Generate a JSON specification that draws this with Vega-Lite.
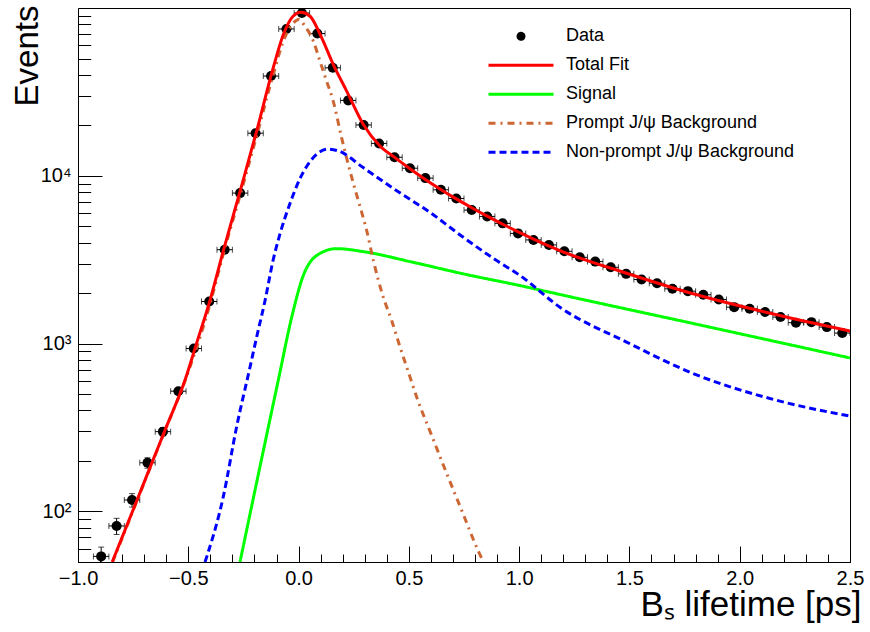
{
  "$schema": "https://vega.github.io/schema/vega-lite/v6.json",
  "width": 772,
  "height": 554,
  "autosize": {"type": "none"},
  "padding": {"left": 78, "top": 8, "right": 20, "bottom": 70},
  "background": "white",
  "config": {
    "view": {"stroke": "black", "strokeWidth": 1},
    "font": "Liberation Sans",
    "axis": {
      "grid": false,
      "domainColor": "black",
      "domainWidth": 1,
      "tickColor": "black",
      "tickWidth": 1,
      "labelColor": "black",
      "titleColor": "black",
      "labelFont": "Liberation Sans",
      "titleFont": "Liberation Sans",
      "titleFontWeight": "normal",
      "labelFontSize": 20,
      "labelOverlap": false,
      "labelFlush": false,
      "labelBound": false
    }
  },
  "datasets": {
    "points": [
      {"t": -0.895, "tlo": -0.93, "thi": -0.86, "v": 54, "vlo": 46.65, "vhi": 61.35},
      {"t": -0.825, "tlo": -0.86, "thi": -0.79, "v": 82, "vlo": 72.94, "vhi": 91.06},
      {"t": -0.755, "tlo": -0.79, "thi": -0.72, "v": 117, "vlo": 106.18, "vhi": 127.82},
      {"t": -0.685, "tlo": -0.72, "thi": -0.65, "v": 195, "vlo": 181.04, "vhi": 208.96},
      {"t": -0.615, "tlo": -0.65, "thi": -0.58, "v": 299, "vlo": 281.71, "vhi": 316.29},
      {"t": -0.545, "tlo": -0.58, "thi": -0.51, "v": 521, "vlo": 498.17, "vhi": 543.83},
      {"t": -0.475, "tlo": -0.51, "thi": -0.44, "v": 935, "vlo": 904.4, "vhi": 965.6},
      {"t": -0.405, "tlo": -0.44, "thi": -0.37, "v": 1783, "vlo": 1740.8, "vhi": 1825.2},
      {"t": -0.335, "tlo": -0.37, "thi": -0.3, "v": 3630, "vlo": 3569.8, "vhi": 3690.2},
      {"t": -0.265, "tlo": -0.3, "thi": -0.23, "v": 7890, "vlo": 7801.2, "vhi": 7978.8},
      {"t": -0.195, "tlo": -0.23, "thi": -0.16, "v": 17950, "vlo": 17816, "vhi": 18084},
      {"t": -0.125, "tlo": -0.16, "thi": -0.09, "v": 39300, "vlo": 39102, "vhi": 39498},
      {"t": -0.055, "tlo": -0.09, "thi": -0.02, "v": 75000, "vlo": 74726, "vhi": 75274},
      {"t": 0.015, "tlo": -0.02, "thi": 0.05, "v": 93400, "vlo": 93094, "vhi": 93706},
      {"t": 0.085, "tlo": 0.05, "thi": 0.12, "v": 70400, "vlo": 70135, "vhi": 70665},
      {"t": 0.155, "tlo": 0.12, "thi": 0.19, "v": 44000, "vlo": 43790, "vhi": 44210},
      {"t": 0.225, "tlo": 0.19, "thi": 0.26, "v": 28150, "vlo": 27982, "vhi": 28318},
      {"t": 0.295, "tlo": 0.26, "thi": 0.33, "v": 20100, "vlo": 19958, "vhi": 20242},
      {"t": 0.365, "tlo": 0.33, "thi": 0.4, "v": 15600, "vlo": 15475, "vhi": 15725},
      {"t": 0.435, "tlo": 0.4, "thi": 0.47, "v": 12900, "vlo": 12786, "vhi": 13014},
      {"t": 0.505, "tlo": 0.47, "thi": 0.54, "v": 11100, "vlo": 10995, "vhi": 11205},
      {"t": 0.575, "tlo": 0.54, "thi": 0.61, "v": 9690, "vlo": 9592, "vhi": 9788},
      {"t": 0.645, "tlo": 0.61, "thi": 0.68, "v": 8255, "vlo": 8164, "vhi": 8346},
      {"t": 0.715, "tlo": 0.68, "thi": 0.75, "v": 7330, "vlo": 7244, "vhi": 7416},
      {"t": 0.785, "tlo": 0.75, "thi": 0.82, "v": 6250, "vlo": 6171, "vhi": 6329},
      {"t": 0.855, "tlo": 0.82, "thi": 0.89, "v": 5730, "vlo": 5654, "vhi": 5806},
      {"t": 0.925, "tlo": 0.89, "thi": 0.96, "v": 5210, "vlo": 5138, "vhi": 5282},
      {"t": 0.995, "tlo": 0.96, "thi": 1.03, "v": 4540, "vlo": 4473, "vhi": 4607},
      {"t": 1.065, "tlo": 1.03, "thi": 1.1, "v": 4150, "vlo": 4086, "vhi": 4214},
      {"t": 1.135, "tlo": 1.1, "thi": 1.17, "v": 3875, "vlo": 3813, "vhi": 3937},
      {"t": 1.205, "tlo": 1.17, "thi": 1.24, "v": 3550, "vlo": 3490, "vhi": 3610},
      {"t": 1.275, "tlo": 1.24, "thi": 1.31, "v": 3270, "vlo": 3213, "vhi": 3327},
      {"t": 1.345, "tlo": 1.31, "thi": 1.38, "v": 3083, "vlo": 3027, "vhi": 3139},
      {"t": 1.415, "tlo": 1.38, "thi": 1.45, "v": 2851, "vlo": 2798, "vhi": 2904},
      {"t": 1.485, "tlo": 1.45, "thi": 1.52, "v": 2605, "vlo": 2554, "vhi": 2656},
      {"t": 1.555, "tlo": 1.52, "thi": 1.59, "v": 2410, "vlo": 2361, "vhi": 2459},
      {"t": 1.625, "tlo": 1.59, "thi": 1.66, "v": 2291, "vlo": 2243, "vhi": 2339},
      {"t": 1.695, "tlo": 1.66, "thi": 1.73, "v": 2122, "vlo": 2076, "vhi": 2168},
      {"t": 1.765, "tlo": 1.73, "thi": 1.8, "v": 2055, "vlo": 2010, "vhi": 2100},
      {"t": 1.835, "tlo": 1.8, "thi": 1.87, "v": 1955, "vlo": 1911, "vhi": 1999},
      {"t": 1.905, "tlo": 1.87, "thi": 1.94, "v": 1834, "vlo": 1791, "vhi": 1877},
      {"t": 1.975, "tlo": 1.94, "thi": 2.01, "v": 1650, "vlo": 1609, "vhi": 1691},
      {"t": 2.045, "tlo": 2.01, "thi": 2.08, "v": 1615, "vlo": 1575, "vhi": 1655},
      {"t": 2.115, "tlo": 2.08, "thi": 2.15, "v": 1542, "vlo": 1503, "vhi": 1581},
      {"t": 2.185, "tlo": 2.15, "thi": 2.22, "v": 1440, "vlo": 1402, "vhi": 1478},
      {"t": 2.255, "tlo": 2.22, "thi": 2.29, "v": 1333, "vlo": 1296, "vhi": 1370},
      {"t": 2.325, "tlo": 2.29, "thi": 2.36, "v": 1343, "vlo": 1306, "vhi": 1380},
      {"t": 2.395, "tlo": 2.36, "thi": 2.43, "v": 1255, "vlo": 1220, "vhi": 1290},
      {"t": 2.465, "tlo": 2.43, "thi": 2.5, "v": 1156, "vlo": 1122, "vhi": 1190}
    ],
    "curves": [
      {"series": "Signal", "t": -0.2656, "v": 50},
      {"series": "Signal", "t": -0.175, "v": 185},
      {"series": "Signal", "t": -0.092, "v": 605},
      {"series": "Signal", "t": -0.031, "v": 1439},
      {"series": "Signal", "t": 0.0213, "v": 2545},
      {"series": "Signal", "t": 0.082, "v": 3350},
      {"series": "Signal", "t": 0.173, "v": 3683},
      {"series": "Signal", "t": 0.293, "v": 3535},
      {"series": "Signal", "t": 0.52, "v": 3052},
      {"series": "Signal", "t": 0.747, "v": 2605},
      {"series": "Signal", "t": 1.004, "v": 2218},
      {"series": "Signal", "t": 1.185, "v": 1963},
      {"series": "Signal", "t": 1.8, "v": 1309},
      {"series": "Signal", "t": 2.5, "v": 822},
      {"series": "Prompt J/ψ Background", "t": -0.843, "v": 50},
      {"series": "Prompt J/ψ Background", "t": -0.73, "v": 118},
      {"series": "Prompt J/ψ Background", "t": -0.6, "v": 316},
      {"series": "Prompt J/ψ Background", "t": -0.515, "v": 600},
      {"series": "Prompt J/ψ Background", "t": -0.4, "v": 1750},
      {"series": "Prompt J/ψ Background", "t": -0.341, "v": 3430},
      {"series": "Prompt J/ψ Background", "t": -0.252, "v": 8800},
      {"series": "Prompt J/ψ Background", "t": -0.19, "v": 17300},
      {"series": "Prompt J/ψ Background", "t": -0.115, "v": 40000},
      {"series": "Prompt J/ψ Background", "t": -0.069, "v": 63400},
      {"series": "Prompt J/ψ Background", "t": -0.025, "v": 81000},
      {"series": "Prompt J/ψ Background", "t": 0.0, "v": 85500},
      {"series": "Prompt J/ψ Background", "t": 0.029, "v": 77800},
      {"series": "Prompt J/ψ Background", "t": 0.067, "v": 63400},
      {"series": "Prompt J/ψ Background", "t": 0.097, "v": 48200},
      {"series": "Prompt J/ψ Background", "t": 0.127, "v": 36700},
      {"series": "Prompt J/ψ Background", "t": 0.157, "v": 27900},
      {"series": "Prompt J/ψ Background", "t": 0.195, "v": 16900},
      {"series": "Prompt J/ψ Background", "t": 0.233, "v": 10700},
      {"series": "Prompt J/ψ Background", "t": 0.271, "v": 7100},
      {"series": "Prompt J/ψ Background", "t": 0.309, "v": 4710},
      {"series": "Prompt J/ψ Background", "t": 0.339, "v": 3130},
      {"series": "Prompt J/ψ Background", "t": 0.384, "v": 1893},
      {"series": "Prompt J/ψ Background", "t": 0.422, "v": 1375},
      {"series": "Prompt J/ψ Background", "t": 0.46, "v": 955},
      {"series": "Prompt J/ψ Background", "t": 0.505, "v": 634},
      {"series": "Prompt J/ψ Background", "t": 0.535, "v": 482},
      {"series": "Prompt J/ψ Background", "t": 0.603, "v": 285},
      {"series": "Prompt J/ψ Background", "t": 0.671, "v": 169},
      {"series": "Prompt J/ψ Background", "t": 0.739, "v": 102},
      {"series": "Prompt J/ψ Background", "t": 0.815, "v": 58},
      {"series": "Prompt J/ψ Background", "t": 0.838, "v": 50},
      {"series": "Non-prompt J/ψ Background", "t": -0.424, "v": 50},
      {"series": "Non-prompt J/ψ Background", "t": -0.341, "v": 123},
      {"series": "Non-prompt J/ψ Background", "t": -0.281, "v": 319},
      {"series": "Non-prompt J/ψ Background", "t": -0.22, "v": 726},
      {"series": "Non-prompt J/ψ Background", "t": -0.19, "v": 1094},
      {"series": "Non-prompt J/ψ Background", "t": -0.152, "v": 1807},
      {"series": "Non-prompt J/ψ Background", "t": -0.115, "v": 3162},
      {"series": "Non-prompt J/ψ Background", "t": -0.084, "v": 4520},
      {"series": "Non-prompt J/ψ Background", "t": -0.039, "v": 6840},
      {"series": "Non-prompt J/ψ Background", "t": 0.006, "v": 9600},
      {"series": "Non-prompt J/ψ Background", "t": 0.067, "v": 12850},
      {"series": "Non-prompt J/ψ Background", "t": 0.133, "v": 14420},
      {"series": "Non-prompt J/ψ Background", "t": 0.18, "v": 14090},
      {"series": "Non-prompt J/ψ Background", "t": 0.293, "v": 11200},
      {"series": "Non-prompt J/ψ Background", "t": 0.445, "v": 8150},
      {"series": "Non-prompt J/ψ Background", "t": 0.596, "v": 6050},
      {"series": "Non-prompt J/ψ Background", "t": 0.747, "v": 4300},
      {"series": "Non-prompt J/ψ Background", "t": 0.898, "v": 3127},
      {"series": "Non-prompt J/ψ Background", "t": 1.004, "v": 2547},
      {"series": "Non-prompt J/ψ Background", "t": 1.185, "v": 1648},
      {"series": "Non-prompt J/ψ Background", "t": 1.487, "v": 1022},
      {"series": "Non-prompt J/ψ Background", "t": 1.789, "v": 664},
      {"series": "Non-prompt J/ψ Background", "t": 2.167, "v": 460},
      {"series": "Non-prompt J/ψ Background", "t": 2.5, "v": 370},
      {"series": "Total Fit", "t": -0.845, "v": 50},
      {"series": "Total Fit", "t": -0.73, "v": 119},
      {"series": "Total Fit", "t": -0.68, "v": 174},
      {"series": "Total Fit", "t": -0.6, "v": 318},
      {"series": "Total Fit", "t": -0.515, "v": 605},
      {"series": "Total Fit", "t": -0.46, "v": 1028},
      {"series": "Total Fit", "t": -0.4016, "v": 1808},
      {"series": "Total Fit", "t": -0.341, "v": 3585},
      {"series": "Total Fit", "t": -0.252, "v": 9330},
      {"series": "Total Fit", "t": -0.19, "v": 18500},
      {"series": "Total Fit", "t": -0.115, "v": 44000},
      {"series": "Total Fit", "t": -0.069, "v": 69500},
      {"series": "Total Fit", "t": -0.025, "v": 89300},
      {"series": "Total Fit", "t": 0.011, "v": 94200},
      {"series": "Total Fit", "t": 0.052, "v": 89300},
      {"series": "Total Fit", "t": 0.105, "v": 66400},
      {"series": "Total Fit", "t": 0.157, "v": 46100},
      {"series": "Total Fit", "t": 0.218, "v": 32000},
      {"series": "Total Fit", "t": 0.293, "v": 20300},
      {"series": "Total Fit", "t": 0.369, "v": 15070},
      {"series": "Total Fit", "t": 0.437, "v": 12840},
      {"series": "Total Fit", "t": 0.505, "v": 11020},
      {"series": "Total Fit", "t": 0.573, "v": 9550},
      {"series": "Total Fit", "t": 0.641, "v": 8356},
      {"series": "Total Fit", "t": 0.709, "v": 7362},
      {"series": "Total Fit", "t": 0.785, "v": 6457},
      {"series": "Total Fit", "t": 0.853, "v": 5768},
      {"series": "Total Fit", "t": 0.928, "v": 5129},
      {"series": "Total Fit", "t": 0.996, "v": 4634},
      {"series": "Total Fit", "t": 1.185, "v": 3581},
      {"series": "Total Fit", "t": 1.487, "v": 2629},
      {"series": "Total Fit", "t": 1.789, "v": 1982},
      {"series": "Total Fit", "t": 2.167, "v": 1486},
      {"series": "Total Fit", "t": 2.5, "v": 1189}
    ]
  },
  "layer": [
    {
      "data": {"name": "points"},
      "mark": {"type": "rule", "color": "black", "strokeWidth": 1, "clip": true},
      "encoding": {
        "x": {
          "field": "tlo", "type": "quantitative",
          "scale": {"domain": [-1, 2.5], "nice": false, "zero": false},
          "axis": {
            "values": [-1, -0.9, -0.8, -0.7, -0.6, -0.5, -0.4, -0.3, -0.2, -0.1, 0, 0.1, 0.2, 0.3, 0.4, 0.5, 0.6, 0.7, 0.8, 0.9, 1, 1.1, 1.2, 1.3, 1.4, 1.5, 1.6, 1.7, 1.8, 1.9, 2, 2.1, 2.2, 2.3, 2.4, 2.5],
            "tickCount": 200,
            "labelExpr": "indexof([-1, -0.5, 0, 0.5, 1, 1.5, 2, 2.5], datum.value) >= 0 ? format(datum.value, '.1f') : ''",
            "tickSize": {"condition": {"test": "indexof([-1, -0.5, 0, 0.5, 1, 1.5, 2, 2.5], datum.value) >= 0", "value": -16}, "value": -8},
            "labelPadding": 22,
            "labelBaseline": "top",
            "labelOverlap": false,
            "labelFlush": false,
            "labelBound": false,
            "title": "Bₛ lifetime [ps]",
            "titleFontSize": 35,
            "titleAlign": "right",
            "titleAnchor": "end",
            "titleBaseline": "alphabetic",
            "titleX": 783,
            "titleY": 53
          }
        },
        "x2": {"field": "thi"},
        "y": {
          "field": "v", "type": "quantitative",
          "scale": {"type": "log", "domain": [50, 100000], "nice": false},
          "axis": {
            "values": [50, 60, 70, 80, 90, 100, 200, 300, 400, 500, 600, 700, 800, 900, 1000, 2000, 3000, 4000, 5000, 6000, 7000, 8000, 9000, 10000, 20000, 30000, 40000, 50000, 60000, 70000, 80000, 90000],
            "tickCount": 200,
            "labelExpr": "datum.value == 100 ? '10²' : datum.value == 1000 ? '10³' : datum.value == 10000 ? '10⁴' : ''",
            "tickSize": {"condition": {"test": "datum.value == 100 || datum.value == 1000 || datum.value == 10000", "value": -24}, "value": -12.7},
            "labelPadding": 31,
            "labelOverlap": false,
            "labelFlush": false,
            "labelBound": false,
            "title": "Events",
            "titleFontSize": 33,
            "titleAngle": 270,
            "titleAlign": "right",
            "titleAnchor": "end",
            "titleBaseline": "alphabetic",
            "titleX": -41,
            "titleY": -3
          }
        }
      }
    },
    {
      "data": {"name": "points"},
      "mark": {"type": "rule", "color": "black", "strokeWidth": 1, "clip": true},
      "encoding": {
        "x": {"field": "t", "type": "quantitative", "scale": {"domain": [-1, 2.5], "nice": false, "zero": false}},
        "y": {"field": "vlo", "type": "quantitative", "scale": {"type": "log", "domain": [50, 100000], "nice": false}},
        "y2": {"field": "vhi"}
      }
    },
    {
      "data": {"name": "points"},
      "mark": {"type": "tick", "orient": "vertical", "color": "black", "size": 6, "thickness": 1, "clip": true},
      "encoding": {
        "x": {"field": "tlo", "type": "quantitative", "scale": {"domain": [-1, 2.5], "nice": false, "zero": false}},
        "y": {"field": "v", "type": "quantitative", "scale": {"type": "log", "domain": [50, 100000], "nice": false}}
      }
    },
    {
      "data": {"name": "points"},
      "mark": {"type": "tick", "orient": "vertical", "color": "black", "size": 6, "thickness": 1, "clip": true},
      "encoding": {
        "x": {"field": "thi", "type": "quantitative", "scale": {"domain": [-1, 2.5], "nice": false, "zero": false}},
        "y": {"field": "v", "type": "quantitative", "scale": {"type": "log", "domain": [50, 100000], "nice": false}}
      }
    },
    {
      "data": {"name": "points"},
      "mark": {"type": "tick", "orient": "horizontal", "color": "black", "size": 6, "thickness": 1, "clip": true},
      "encoding": {
        "x": {"field": "t", "type": "quantitative", "scale": {"domain": [-1, 2.5], "nice": false, "zero": false}},
        "y": {"field": "vhi", "type": "quantitative", "scale": {"type": "log", "domain": [50, 100000], "nice": false}}
      }
    },
    {
      "data": {"name": "points"},
      "mark": {"type": "tick", "orient": "horizontal", "color": "black", "size": 6, "thickness": 1, "clip": true},
      "encoding": {
        "x": {"field": "t", "type": "quantitative", "scale": {"domain": [-1, 2.5], "nice": false, "zero": false}},
        "y": {"field": "vlo", "type": "quantitative", "scale": {"type": "log", "domain": [50, 100000], "nice": false}}
      }
    },
    {
      "data": {"name": "points"},
      "mark": {"type": "point", "shape": "circle", "filled": true, "color": "black", "opacity": 1, "size": 100, "strokeWidth": 0, "clip": true},
      "encoding": {
        "x": {"field": "t", "type": "quantitative", "scale": {"domain": [-1, 2.5], "nice": false, "zero": false}},
        "y": {"field": "v", "type": "quantitative", "scale": {"type": "log", "domain": [50, 100000], "nice": false}}
      }
    },
    {
      "data": {"name": "curves"},
      "transform": [{"filter": "datum.series != 'Total Fit'"}],
      "mark": {"type": "line", "strokeWidth": 3, "interpolate": "monotone", "clip": true},
      "encoding": {
        "x": {"field": "t", "type": "quantitative", "scale": {"domain": [-1, 2.5], "nice": false, "zero": false}},
        "y": {"field": "v", "type": "quantitative", "scale": {"type": "log", "domain": [50, 100000], "nice": false}},
        "color": {
          "field": "series", "type": "nominal",
          "scale": {
            "domain": ["Data", "Total Fit", "Signal", "Prompt J/ψ Background", "Non-prompt J/ψ Background"],
            "range": ["black", "#ff0000", "#00ff00", "#cc6633", "#0000ff"]
          },
          "legend": {
            "orient": "none",
            "legendX": 409,
            "legendY": 14,
            "title": null,
            "padding": 0,
            "labelFont": "Liberation Sans",
            "labelFontSize": 18,
            "labelColor": "black",
            "labelLimit": 500,
            "labelOffset": 11,
            "symbolType": "stroke",
            "symbolSize": 4225,
            "symbolStrokeWidth": 3,
            "clipHeight": 28.6,
            "rowPadding": 0,
            "encode": {
              "symbols": {
                "update": {
                  "shape": {"signal": "datum.value === 'Data' ? 'M0.092,0A0.092,0.092,0,1,1,-0.092,0A0.092,0.092,0,1,1,0.092,0Z' : 'stroke'"},
                  "fill": {"signal": "datum.value === 'Data' ? 'black' : 'transparent'"},
                  "strokeDash": {"signal": "datum.value === 'Prompt J/ψ Background' ? [7,5,2,5] : datum.value === 'Non-prompt J/ψ Background' ? [7,4] : [1,0]"},
                  "opacity": {"value": 1}
                }
              }
            }
          }
        },
        "strokeDash": {
          "field": "series", "type": "nominal",
          "scale": {
            "domain": ["Data", "Total Fit", "Signal", "Prompt J/ψ Background", "Non-prompt J/ψ Background"],
            "range": [[1, 0], [1, 0], [1, 0], [7, 5, 2, 5], [7, 4]]
          },
          "legend": null
        }
      }
    },
    {
      "data": {"name": "curves"},
      "transform": [{"filter": "datum.series == 'Total Fit'"}],
      "mark": {"type": "line", "strokeWidth": 3, "interpolate": "monotone", "clip": true},
      "encoding": {
        "x": {"field": "t", "type": "quantitative", "scale": {"domain": [-1, 2.5], "nice": false, "zero": false}},
        "y": {"field": "v", "type": "quantitative", "scale": {"type": "log", "domain": [50, 100000], "nice": false}},
        "color": {
          "field": "series", "type": "nominal",
          "scale": {
            "domain": ["Data", "Total Fit", "Signal", "Prompt J/ψ Background", "Non-prompt J/ψ Background"],
            "range": ["black", "#ff0000", "#00ff00", "#cc6633", "#0000ff"]
          },
          "legend": null
        }
      }
    }
  ]
}
